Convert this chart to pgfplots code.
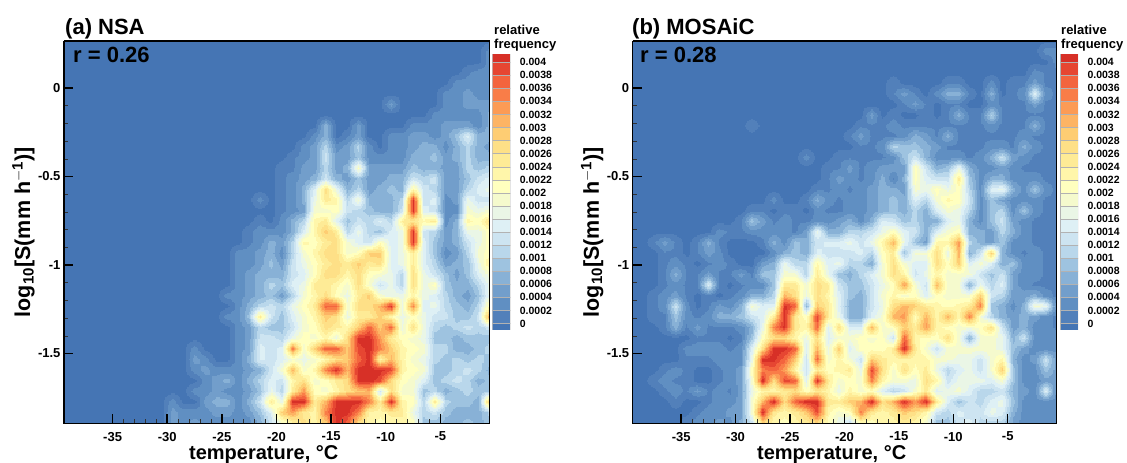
\documentclass[border=0pt]{standalone}
\usepackage{pgfplots}
\usepgfplotslibrary{patchplots}
\pgfplotsset{compat=1.18}
\usepackage{fontspec}
\setmainfont{Liberation Sans}
\definecolor{c0}{RGB}{69,117,180}
\definecolor{c1}{RGB}{82,128,186}
\definecolor{c2}{RGB}{96,143,194}
\definecolor{c3}{RGB}{114,158,203}
\definecolor{c4}{RGB}{136,177,214}
\definecolor{c5}{RGB}{158,195,224}
\definecolor{c6}{RGB}{185,215,235}
\definecolor{c7}{RGB}{205,228,241}
\definecolor{c8}{RGB}{222,240,245}
\definecolor{c9}{RGB}{234,246,230}
\definecolor{c10}{RGB}{245,250,205}
\definecolor{c11}{RGB}{255,255,191}
\definecolor{c12}{RGB}{255,246,170}
\definecolor{c13}{RGB}{254,235,150}
\definecolor{c14}{RGB}{254,224,135}
\definecolor{c15}{RGB}{254,205,115}
\definecolor{c16}{RGB}{253,180,100}
\definecolor{c17}{RGB}{252,155,85}
\definecolor{c18}{RGB}{249,125,72}
\definecolor{c19}{RGB}{243,100,62}
\definecolor{c20}{RGB}{230,70,50}
\definecolor{c21}{RGB}{215,48,39}
\pgfplotsset{
  colormap={freq}{color=(c0) color=(c1) color=(c2) color=(c3) color=(c4) color=(c5) color=(c6) color=(c7) color=(c8) color=(c9) color=(c10) color=(c11) color=(c12) color=(c13) color=(c14) color=(c15) color=(c16) color=(c17) color=(c18) color=(c19) color=(c20) color=(c21)},
  panel/.style={
    scale only axis, anchor=south west, width=#1, height=382.5pt,
    view={0}{90}, axis on top,
    axis background/.style={fill=c0},
    xmin=-39.45, xmax=-0.5, ymin=-1.895, ymax=0.265,
    xtick={-35,-30,-25,-20,-15,-10,-5}, ytick={-1.5,-1,-0.5,0},
    yticklabels={-1.5,-1,-0.5,0},
    minor x tick num=4, minor y tick num=4,
    tick align=inside, tick pos=left,
    major tick length=9pt, minor tick length=4pt,
    every major tick/.style={black, line width=1.5pt},
    every minor tick/.style={black!80, line width=0.5pt},
    axis line style={line width=1.5pt},
    /pgf/number format/assume math mode=true,
    tick label style={font=\fontsize{13}{13}\selectfont\bfseries},
    xticklabel style={yshift=-5pt},
    xlabel={temperature, °C}, ylabel={log$_{\mathbf{10}}$[S(mm h$^{\mathbf{-1}}$)]},
    label style={font=\fontsize{20}{20}\selectfont\bfseries},
    xlabel style={yshift=3pt, xshift=-13pt}, ylabel style={font=\fontsize{21.5}{21.5}\selectfont\bfseries, yshift=-3.5pt},
    point meta min=-1, point meta max=21, colormap name=freq,
    colormap access=piecewise constant,
  },
  field/.style={surf, shader=interp, patch type=bilinear, mesh/cols=40,
    point meta={\thisrowno{0}>0 ? \thisrowno{0}+0.5 : -0.4}},
  cbar/.style={
    scale only axis, anchor=south west, width=18pt, height=275pt,
    xmin=0, xmax=1, ymin=-0.5, ymax=20.55,
    xtick=\empty, ytick={0,1,...,20},
    yticklabels={0,0.0002,0.0004,0.0006,0.0008,0.001,0.0012,0.0014,0.0016,0.0018,0.002,0.0022,0.0024,0.0026,0.0028,0.003,0.0032,0.0034,0.0036,0.0038,0.004},
    /pgf/number format/assume math mode=true,
    tick pos=right, major tick length=0pt, axis line style={draw=none},
    tick label style={font=\fontsize{10.5}{10.5}\selectfont\bfseries, xshift=6pt},
  },
}
\newcommand\band[3]{\addplot[draw=black!30, line width=0.3pt, fill=#1] coordinates {(0,#2) (1,#2) (1,#3) (0,#3)} -- cycle;}
\newcommand\bands{%
\band{c0}{-1}{0}\band{c1}{0}{1}\band{c2}{1}{2}\band{c3}{2}{3}\band{c4}{3}{4}\band{c5}{4}{5}%
\band{c6}{5}{6}\band{c7}{6}{7}\band{c8}{7}{8}\band{c9}{8}{9}\band{c10}{9}{10}\band{c11}{10}{11}%
\band{c12}{11}{12}\band{c13}{12}{13}\band{c14}{13}{14}\band{c15}{14}{15}\band{c16}{15}{16}%
\band{c17}{16}{17}\band{c18}{17}{18}\band{c19}{18}{19}\band{c20}{19}{20}\band{c21}{20}{21}%
}
\begin{document}
\begin{tikzpicture}[x=1pt,y=1pt]
\useasboundingbox (0,0) rectangle (1127,463);
\begin{axis}[panel=425.5pt, at={(64pt,39.5pt)}]
\addplot3[field] table[row sep=\\, header=false, x expr={-39.5+mod(\coordindex,40)}, y expr={0.265-0.06*floor(\coordindex/40)}, z index=0] {
0\\0\\0\\0\\0\\0\\0\\0\\0\\0\\0\\0\\0\\0\\0\\0\\0\\0\\0\\0\\0\\0\\0\\0\\0\\0\\0\\0\\0\\0\\0\\0\\0\\0\\0\\0\\0\\0\\0\\0\\
0\\0\\0\\0\\0\\0\\0\\0\\0\\0\\0\\0\\0\\0\\0\\0\\0\\0\\0\\0\\0\\0\\0\\0\\0\\0\\0\\0\\0\\0\\0\\0\\0\\0\\0\\0\\0\\0\\0\\1\\
0\\0\\0\\0\\0\\0\\0\\0\\0\\0\\0\\0\\0\\0\\0\\0\\0\\0\\0\\0\\0\\0\\0\\0\\0\\0\\0\\0\\0\\0\\0\\0\\0\\0\\0\\0\\0\\0\\0\\1\\
0\\0\\0\\0\\0\\0\\0\\0\\0\\0\\0\\0\\0\\0\\0\\0\\0\\0\\0\\0\\0\\0\\0\\0\\0\\0\\0\\0\\0\\0\\0\\0\\0\\0\\0\\0\\0\\0.3\\1\\1\\
0\\0\\0\\0\\0\\0\\0\\0\\0\\0\\0\\0\\0\\0\\0\\0\\0\\0\\0\\0\\0\\0\\0\\0\\0\\0\\0\\0\\0\\0\\0\\0\\0\\0\\0\\0\\1\\1\\1\\1\\
0\\0\\0\\0\\0\\0\\0\\0\\0\\0\\0\\0\\0\\0\\0\\0\\0\\0\\0\\0\\0\\0\\0\\0\\0\\0\\0\\0\\0\\0\\0\\0\\0\\0\\0\\1\\1\\2\\1\\1\\
0\\0\\0\\0\\0\\0\\0\\0\\0\\0\\0\\0\\0\\0\\0\\0\\0\\0\\0\\0\\0\\0\\0\\0\\0\\0\\0\\0\\0\\0\\2\\0\\0\\0\\0\\1\\1\\2\\2\\2\\
0\\0\\0\\0\\0\\0\\0\\0\\0\\0\\0\\0\\0\\0\\0\\0\\0\\0\\0\\0\\0\\0\\0\\0\\0\\0\\0\\0\\0\\0\\0\\0\\0\\0\\1\\1\\1\\1\\1\\3\\
0\\0\\0\\0\\0\\0\\0\\0\\0\\0\\0\\0\\0\\0\\0\\0\\0\\0\\0\\0\\0\\0\\0\\0\\3\\0\\0\\2\\0\\0\\0\\0\\1\\1\\1\\2\\2\\2\\1\\3\\
0\\0\\0\\0\\0\\0\\0\\0\\0\\0\\0\\0\\0\\0\\0\\0\\0\\0\\0\\0\\0\\0\\0\\1\\3\\0\\0.3\\2\\0\\0\\1\\1\\2\\2\\1\\2\\4\\7\\3\\3\\
0\\0\\0\\0\\0\\0\\0\\0\\0\\0\\0\\0\\0\\0\\0\\0\\0\\0\\0\\0\\0\\0\\1\\2\\5\\1\\2\\5\\1\\0\\1\\1\\2\\3\\3\\1\\3\\5\\3\\2\\
0\\0\\0\\0\\0\\0\\0\\0\\0\\0\\0\\0\\0\\0\\0\\0\\0\\0\\0\\0\\0\\0.3\\1\\2\\6\\2\\2\\4\\1\\1\\1\\1\\3\\3\\4\\2\\3\\5\\3\\3\\
0\\0\\0\\0\\0\\0\\0\\0\\0\\0\\0\\0\\0\\0\\0\\0\\0\\0\\0\\0\\0.3\\0.3\\2\\2\\5\\2\\3\\10\\2\\2\\2\\2\\4\\3\\3\\2\\2\\5\\4\\5\\
0\\0\\0\\0\\0\\0\\0\\0\\0\\0\\0\\0\\0\\0\\0\\0\\0\\0\\0\\0\\0.3\\1\\2\\3\\6\\3\\2\\4\\2\\2\\3\\3\\6\\5\\6\\2\\2\\4\\6\\7\\
0\\0\\0\\0\\0\\0\\0\\0\\0\\0\\0\\0\\0\\0\\0\\0\\0\\0\\0\\0\\0.3\\1\\3\\7\\13\\8\\3\\5\\2\\3\\4\\3\\11\\6\\5\\2\\2\\5\\7\\8\\
0\\0\\0\\0\\0\\0\\0\\0\\0\\0\\0\\0\\0\\0\\0\\0\\0\\0\\1\\0\\0.3\\1\\3\\8\\12\\11\\5\\9\\3\\3\\3\\5\\20\\6\\7\\1\\2\\8\\6\\6\\
0\\0\\0\\0\\0\\0\\0\\0\\0\\0\\0\\0\\0\\0\\0\\0\\0\\0\\0\\0\\0.3\\1\\2\\9\\9\\10\\6\\5\\4\\3\\3\\6\\20\\7\\6\\1\\1\\9\\8\\9\\
0\\0\\0\\0\\0\\0\\0\\0\\0\\0\\0\\0\\0\\0\\0\\0\\0\\0\\0.3\\0\\1\\3\\5\\11\\12\\7\\4\\6\\5\\7\\5\\12\\12\\11\\12\\1\\3\\11\\10\\13\\
0\\0\\0\\0\\0\\0\\0\\0\\0\\0\\0\\0\\0\\0\\0\\0\\0\\0.3\\1\\1\\1\\3\\7\\11\\14\\12\\5\\8\\5\\4\\7\\8\\20\\6\\5\\2\\3\\8\\8\\10\\
0\\0\\0\\0\\0\\0\\0\\0\\0\\0\\0\\0\\0\\0\\0\\0\\0\\0.3\\1\\3\\2\\5\\11\\10\\12\\13\\9\\7\\6\\10\\7\\8\\20\\7\\4\\2\\3\\6\\8\\10\\
0\\0\\0\\0\\0\\0\\0\\0\\0\\0\\0\\0\\0\\0\\0\\0\\1\\1\\2\\3\\1\\5\\9\\11\\13\\13\\9\\10\\14\\14\\7\\8\\12\\7\\4\\1\\2\\5\\9\\10\\
0\\0\\0\\0\\0\\0\\0\\0\\0\\0\\0\\0\\0\\0\\0\\0\\1\\1\\2\\4\\2\\6\\8\\10\\12\\13\\12\\14\\12\\13\\7\\8\\12\\7\\5\\2\\3\\4\\8\\12\\
0\\0\\0\\0\\0\\0\\0\\0\\0\\0\\0\\0\\0\\0\\0\\0\\1\\2\\3\\3\\3\\6\\7\\10\\13\\13\\11\\13\\10\\9\\8\\5\\13\\8\\6\\4\\2\\4\\7\\9\\
0\\0\\0\\0\\0\\0\\0\\0\\0\\0\\0\\0\\0\\0\\0\\0\\1\\2\\3\\5\\4\\7\\8\\12\\12\\11\\9\\13\\9\\6\\8\\5\\13\\8\\10\\4\\3\\3\\5\\8\\
0\\0\\0\\0\\0\\0\\0\\0\\0\\0\\0\\0\\0\\0\\0\\1\\1\\2\\3\\4\\2\\5\\9\\11\\13\\10\\8\\12\\14\\9\\8\\8\\11\\8\\7\\5\\3\\2\\4\\8\\
0\\0\\0\\0\\0\\0\\0\\0\\0\\0\\0\\0\\0\\0\\0\\0\\1\\3\\5\\6\\5\\8\\10\\12\\18\\18\\9\\13\\13\\15\\20\\8\\17\\7\\8\\5\\4\\3\\5\\11\\
0\\0\\0\\0\\0\\0\\0\\0\\0\\0\\0\\0\\0\\0\\0\\1\\1\\4\\12\\6\\4\\7\\9\\11\\14\\13\\8\\12\\12\\14\\11\\8\\10\\8\\6\\6\\4\\4\\6\\16\\
0\\0\\0\\0\\0\\0\\0\\0\\0\\0\\0\\0\\0\\0\\0\\0\\1\\2\\5\\4\\4\\6\\9\\10\\13\\12\\11\\14\\18\\14\\18\\8\\13\\8\\5\\4\\5\\6\\5\\6\\
0\\0\\0\\0\\0\\0\\0\\0\\0\\0\\0\\0\\0\\0\\0\\0\\1\\2\\6\\6\\5\\8\\10\\9\\11\\8\\13\\20\\20\\16\\12\\10\\9\\8\\4\\4\\3\\4\\4\\4\\
0\\0\\0\\0\\0\\0\\0\\0\\0\\0\\0\\0\\1\\0\\0\\0\\1\\2\\7\\6\\7\\17\\9\\14\\18\\18\\14\\19\\20\\17\\14\\11\\10\\9\\5\\5\\3\\3\\4\\5\\
0\\0\\0\\0\\0\\0\\0\\0\\0\\0\\0\\0\\2\\1\\0\\0\\1\\3\\7\\6\\7\\9\\8\\9\\11\\13\\14\\18\\20\\11\\15\\11\\9\\8\\5\\4\\5\\4\\5\\4\\
0\\0\\0\\0\\0\\0\\0\\0\\0\\0\\0\\0\\1\\2\\1\\1\\1\\2\\3\\6\\9\\15\\9\\11\\17\\20\\15\\20\\20\\20\\19\\11\\10\\9\\4\\4\\5\\6\\5\\3\\
0\\0\\0\\0\\0\\0\\0\\0\\0\\0\\0\\0\\0\\1\\2\\3\\1\\3\\5\\7\\6\\11\\13\\9\\10\\12\\13\\20\\20\\19\\13\\10\\9\\7\\4\\5\\6\\5\\3\\4\\
0\\0\\0\\0\\0\\0\\0\\0\\0\\0\\0\\0\\1\\1\\2\\1\\1\\2\\4\\8\\5\\12\\16\\10\\9\\11\\13\\14\\15\\6\\13\\9\\9\\4\\5\\3\\4\\5\\4\\4\\
0\\0\\0\\0\\0\\0\\0\\0\\0\\0\\1\\0\\0\\2\\3\\3\\1\\3\\6\\12\\8\\20\\20\\12\\15\\20\\20\\20\\17\\12\\20\\11\\10\\5\\12\\5\\4\\4\\3\\15\\
0\\0\\0\\0\\0\\0\\0\\0\\0\\0\\2\\1\\1\\1\\2\\2\\1\\2\\4\\7\\14\\16\\12\\11\\17\\20\\20\\17\\11\\11\\12\\12\\8\\5\\6\\4\\3\\3\\3\\5\\
0\\0\\0\\0\\0\\0\\0\\0\\0\\0\\2\\1\\2\\1\\1\\1\\1\\1\\3\\6\\9\\11\\13\\11\\14\\20\\18\\13\\11\\10\\11\\11\\10\\4\\4\\3\\3\\4\\3\\4\\
};
\end{axis}
\begin{axis}[panel=424pt, at={(632.7pt,39.5pt)}]
\addplot3[field] table[row sep=\\, header=false, x expr={-39.5+mod(\coordindex,40)}, y expr={0.265-0.06*floor(\coordindex/40)}, z index=0] {
0\\0\\0\\0\\0\\0\\0\\0\\0\\0\\0\\0\\0\\0\\0\\0\\0\\0\\0\\0\\0\\0\\0\\0\\0\\0\\0\\0\\0\\0\\0\\0\\0\\0\\0\\0\\0\\0\\0\\0\\
0\\0\\0\\0\\0\\0\\0\\0\\0\\0\\0\\0\\0\\0\\0\\0\\0\\0\\0\\0\\0\\0\\0\\0\\0\\0\\0\\0\\0\\0\\0\\0\\0\\0\\0\\0\\0\\0\\1\\1\\
0\\0\\0\\0\\0\\0\\0\\0\\0\\0\\0\\0\\0\\0\\0\\0\\0\\0\\0\\0\\0\\0\\0\\0\\0\\0\\0\\0\\0\\0\\0\\0\\0\\0\\0\\0\\0\\0\\0\\1\\
0\\0\\0\\0\\0\\0\\0\\0\\0\\0\\0\\0\\0\\0\\0\\0\\0\\0\\0\\0\\0\\0\\0\\0\\0\\0\\0\\0\\0\\0\\0\\0\\0\\0\\0\\0\\0\\1\\0.3\\0.3\\
0\\0\\0\\0\\0\\0\\0\\0\\0\\0\\0\\0\\0\\0\\0\\0\\0\\0\\0\\0\\0\\0\\0\\0\\0.3\\0\\0\\0\\0\\0.3\\0.3\\0\\0\\1\\0\\0.3\\0.3\\2\\0.3\\0.3\\
0\\0\\0\\0\\0\\0\\0\\0\\0\\0\\0\\0\\0\\0\\0\\0\\0\\0\\0\\0\\0\\0\\0\\0\\0.3\\2\\0.3\\0\\1\\3\\3\\0.3\\0\\3\\0\\0.3\\1\\7\\1\\0.3\\
0\\0\\0\\0\\0\\0\\0\\0\\0\\0\\0\\0\\0\\0\\0\\0\\0\\0\\0\\0\\0\\0\\0\\0\\0\\0.3\\2\\0.3\\0\\0.3\\0.3\\0\\0\\1\\0.3\\0.3\\0.3\\2\\0.3\\0.3\\
0\\0\\0\\0\\0\\0\\0\\0\\0\\0\\0\\0\\0\\0\\0\\0\\0\\0\\0\\0\\0\\0\\2\\0\\0.3\\0\\0\\0.3\\0\\0.3\\3\\0.3\\0.3\\5\\0.3\\0.3\\0.3\\0.3\\0.3\\0.3\\
0\\0\\0\\0\\0\\0\\0\\0\\0\\0\\0\\0.3\\0\\0\\0\\0\\0\\0\\0\\0\\0\\0.3\\0.3\\0.3\\1\\0.3\\0.3\\0.3\\0.3\\0.3\\0.3\\0.3\\0.3\\1\\0.3\\0.3\\0.3\\3\\0.3\\0.3\\
0\\0\\0\\0\\0\\0\\0\\0\\0\\0\\0\\0\\0\\0\\0\\0\\0\\0\\0\\0\\0.3\\2\\0.3\\0.3\\0.3\\1\\3\\2\\0.3\\3\\0.3\\0.3\\0.3\\0.3\\0.3\\0.3\\1\\0.3\\0.3\\0.3\\
0\\0\\0\\0\\0\\0\\0\\0\\0\\0\\0\\0\\0\\0\\0\\0\\0\\0\\0\\0\\0\\0.3\\0.3\\1\\5\\4\\4\\3\\2\\0.3\\0.3\\0.3\\0.3\\1\\1\\0.3\\3\\1\\0.3\\0.3\\
0\\0\\0\\0\\0\\0\\0\\0\\0\\0\\0\\0\\0\\0\\0\\0\\1\\0\\0\\0.3\\0.3\\0.3\\0.3\\0.3\\1\\4\\6\\3\\1\\1\\1\\0.3\\1\\3\\6\\2\\1\\0.3\\0.3\\0.3\\
0\\0\\0\\0\\0\\0\\0\\0\\0\\0\\0\\0\\0\\0\\0\\0\\0\\0\\0.3\\0.3\\2\\0.3\\1\\2\\2\\2\\10\\6\\3\\4\\8\\3\\1\\1\\2\\1\\0.3\\0.3\\0.3\\0.3\\
0\\0\\0\\0\\0\\0\\0\\0\\0\\0\\0\\0\\0\\0\\0\\0\\0\\0\\0.3\\2\\1\\0.3\\1\\3\\0.3\\3\\10\\7\\6\\6\\12\\4\\1\\3\\3\\1\\1\\1\\0.3\\0.3\\
0\\0\\0\\0\\0\\0\\0\\0\\0\\0\\0\\0\\0\\0\\0\\0\\0\\0.3\\0.3\\1\\0.3\\1\\2\\3\\3\\2\\9\\8\\10\\8\\10\\5\\1\\7\\8\\3\\1\\4\\1\\0.3\\
0\\0\\0\\0\\0\\0\\0\\0\\0\\0\\0\\0\\0\\1\\0\\0\\0.3\\3\\1\\0.3\\1\\1\\2\\3\\4\\3\\7\\5\\9\\11\\10\\6\\1\\4\\2\\1\\1\\1\\0.3\\0.3\\
0\\0\\0\\0\\0\\0\\0\\0\\0\\0\\0\\0.3\\0.3\\0\\0.3\\0.3\\0\\1\\0.3\\0.3\\1\\1\\2\\3\\4\\3\\5\\3\\7\\9\\8\\5\\1\\4\\5\\1\\4\\1\\0.3\\0.3\\
0\\0\\0\\0\\0\\0\\0\\0\\0\\0\\0.3\\4\\2\\0.3\\1\\0.3\\0.3\\1\\1\\2\\3\\1\\3\\7\\6\\4\\5\\3\\3\\7\\8\\3\\1\\4\\6\\2\\1\\0.3\\0.3\\0.3\\
0\\0\\0\\0\\0\\0\\0\\0\\1\\0.3\\0.3\\1\\1\\1\\1\\0.3\\2\\8\\3\\3\\5\\5\\6\\8\\10\\7\\6\\3\\7\\9\\10\\3\\3\\2\\5\\3\\1\\0.3\\0.3\\0.3\\
0\\0\\0.3\\2\\0.3\\0\\0.3\\3\\0.3\\0\\0\\0\\0.3\\3\\1\\4\\3\\6\\7\\7\\8\\6\\8\\11\\15\\8\\4\\2\\11\\11\\16\\5\\3\\2\\4\\1\\1\\0.3\\0.3\\0.3\\
0\\0\\0\\0.3\\0.3\\0\\0.3\\2\\1\\0\\0\\0\\0\\1\\3\\4\\3\\7\\6\\6\\6\\7\\5\\10\\12\\4\\9\\9\\13\\8\\15\\3\\6\\14\\3\\1\\0.3\\1\\0.3\\0.3\\
0\\0\\0\\0.3\\1\\0.3\\0\\0.3\\1\\0.3\\0\\0\\2\\3\\8\\5\\5\\11\\7\\8\\5\\5\\3\\9\\13\\9\\7\\7\\13\\10\\14\\7\\9\\7\\3\\4\\1\\1\\0.3\\0.3\\
0\\0\\0\\0.3\\3\\0.3\\0.3\\2\\0.3\\0.3\\2\\0.3\\4\\4\\9\\9\\5\\12\\8\\4\\3\\5\\7\\9\\13\\11\\6\\8\\11\\9\\9\\9\\6\\4\\6\\2\\1\\1\\0.3\\0.3\\
0\\0\\0\\0.3\\1\\0.3\\0.3\\7\\0.3\\0\\0.3\\1\\1\\4\\12\\12\\9\\13\\12\\6\\4\\4\\6\\8\\10\\16\\9\\6\\15\\9\\9\\3\\8\\5\\7\\2\\1\\0.3\\0.3\\0.3\\
0\\0\\0.3\\1\\2\\0.3\\0\\0.3\\0\\0.3\\1\\3\\3\\5\\15\\13\\8\\13\\11\\7\\4\\3\\6\\9\\11\\9\\10\\7\\10\\9\\9\\9\\14\\6\\5\\2\\2\\3\\1\\0.3\\
0\\0\\0.3\\1\\6\\1\\0\\0.3\\2\\1\\3\\9\\7\\7\\20\\18\\3\\14\\12\\7\\3\\3\\6\\8\\13\\15\\14\\12\\11\\10\\11\\12\\17\\4\\3\\1\\3\\9\\8\\1\\
0\\0\\0.3\\0.3\\4\\1\\0.3\\1\\3\\3\\4\\6\\7\\12\\20\\12\\10\\19\\12\\8\\3\\3\\7\\9\\15\\16\\10\\15\\11\\15\\11\\17\\9\\5\\3\\2\\3\\2\\1\\0.3\\
0\\0\\0\\0.3\\3\\0.3\\2\\0.3\\0.3\\0.3\\1\\3\\8\\17\\20\\12\\11\\18\\7\\13\\7\\7\\15\\9\\10\\14\\12\\16\\11\\10\\9\\9\\10\\13\\6\\2\\3\\1\\1\\0.3\\
0\\0\\0\\0\\0\\0\\0.3\\0.3\\0.3\\0\\0.3\\4\\10\\13\\13\\11\\8\\13\\7\\9\\9\\10\\9\\10\\6\\18\\11\\10\\10\\13\\9\\3\\9\\9\\8\\3\\6\\1\\1\\1\\
0\\0\\0\\0\\0\\1\\1\\1\\1\\0.3\\1\\7\\13\\20\\20\\18\\7\\15\\8\\14\\7\\10\\10\\10\\12\\20\\12\\9\\6\\9\\9\\9\\9\\9\\8\\4\\2\\1\\1\\1\\
0\\0\\0\\0\\0\\0.3\\0.3\\0.3\\1\\1\\1\\8\\20\\20\\18\\14\\6\\18\\9\\11\\9\\6\\14\\12\\11\\11\\11\\11\\9\\9\\8\\8\\6\\9\\11\\3\\1\\2\\6\\2\\
0\\0\\0\\0.3\\1\\0.3\\0\\0\\0.3\\1\\2\\10\\17\\18\\16\\11\\6\\12\\10\\11\\12\\8\\19\\13\\9\\13\\10\\12\\8\\5\\7\\8\\6\\9\\14\\4\\1\\1\\4\\2\\
0\\0\\0.3\\1\\0.3\\0.3\\0\\0\\0.3\\1\\2\\9\\20\\13\\19\\18\\7\\20\\12\\9\\10\\9\\17\\11\\9\\9\\8\\13\\11\\6\\8\\8\\8\\7\\9\\4\\1\\1\\2\\2\\
0\\0\\0\\0.3\\1\\0.3\\2\\0.3\\1\\0.3\\2\\8\\11\\11\\12\\13\\10\\12\\11\\8\\11\\9\\10\\7\\5\\6\\9\\12\\7\\8\\9\\7\\5\\5\\6\\3\\2\\1\\7\\1\\
0\\0\\0\\0\\0.3\\0\\0\\0.3\\1\\1\\2\\9\\15\\20\\13\\18\\20\\20\\12\\12\\14\\15\\20\\13\\15\\20\\16\\20\\12\\7\\4\\6\\5\\7\\8\\4\\1\\1\\1\\1\\
0\\0\\0\\0\\0\\0\\0.3\\1\\1\\2\\2\\9\\20\\12\\11\\12\\14\\19\\11\\9\\10\\17\\12\\11\\12\\14\\13\\11\\6\\5\\7\\6\\6\\8\\7\\3\\1\\1\\1\\1\\
0\\0\\0\\0\\0\\0.3\\1\\1\\2\\1\\3\\6\\13\\11\\10\\11\\12\\13\\10\\8\\6\\10\\10\\11\\11\\12\\11\\9\\4\\4\\6\\7\\5\\5\\5\\2\\1\\1\\1\\1\\
};
\end{axis}
\begin{axis}[cbar, at={(492.3pt,133pt)}]
\bands
\end{axis}
\begin{axis}[cbar, at={(1060pt,133pt)}]
\bands
\end{axis}
\node[anchor=base west, inner sep=0pt, font=\fontsize{22}{22}\selectfont\bfseries] at (65,428) {(a) NSA};
\node[anchor=base west, inner sep=0pt, font=\fontsize{22}{22}\selectfont\bfseries] at (632,428) {(b) MOSAiC};
\node[anchor=base west, font=\fontsize{22}{22}\selectfont\bfseries, inner sep=0pt] at (73,400) {r = 0.26};
\node[anchor=base west, font=\fontsize{22}{22}\selectfont\bfseries, inner sep=0pt] at (640,400) {r = 0.28};
\node[anchor=base west, align=left, inner sep=0pt, font=\fontsize{13}{14.5}\selectfont\bfseries] at (494,414) {relative\\frequency};
\node[anchor=base west, align=left, inner sep=0pt, font=\fontsize{13}{14.5}\selectfont\bfseries] at (1061,414) {relative\\frequency};
\end{tikzpicture}
\end{document}
